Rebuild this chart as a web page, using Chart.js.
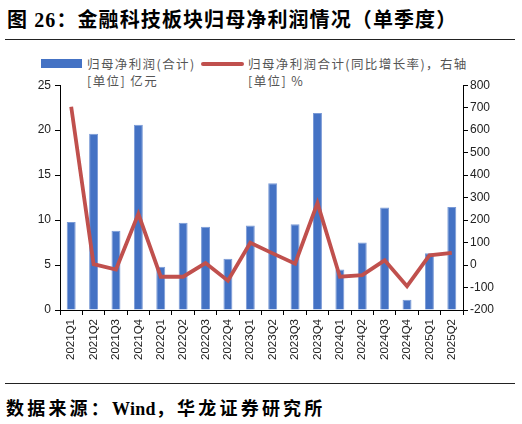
<!DOCTYPE html>
<html>
<head>
<meta charset="utf-8">
<script src="https://cdn.jsdelivr.net/npm/chart.js@4"></script>
<style>
  html, body { margin: 0; padding: 0; background: #fff; }
  body { width: 522px; height: 424px; position: relative; overflow: hidden; }
  .title { position: absolute; left: 7px; top: 4px; font: bold 20px "Liberation Serif", "Noto Sans CJK SC", serif; color: #000; letter-spacing: 1.1px; white-space: nowrap; }
  .rule { position: absolute; left: 5px; width: 510px; height: 1px; background: #222; }
  .legend { position: absolute; font: 12.5px "Noto Sans CJK SC", sans-serif; color: #555; letter-spacing: 1.4px; white-space: nowrap; line-height: 17px; }
  .swatch { position: absolute; }
  .source { position: absolute; left: 6px; top: 394px; font: bold 18px "Liberation Serif", "Noto Sans CJK SC", serif; color: #000; letter-spacing: 3.2px; white-space: nowrap; }
  .source span { letter-spacing: 0.3px; }
  #wrap { position: absolute; left: 0; top: 74px; width: 522px; height: 306px; }
</style>
</head>
<body>
<div class="title">图 26：金融科技板块归母净利润情况（单季度）</div>
<div class="rule" style="top:39px"></div>

<div class="swatch" style="left:41px; top:59px; width:41px; height:9px; background:#4472C4"></div>
<div class="legend" style="left:87px; top:55px">归母净利润(合计)<br>[单位] 亿元</div>
<div class="swatch" style="left:201px; top:62px; width:43px; height:4px; background:#C0504D; border-radius:2px"></div>
<div class="legend" style="left:248px; top:55px">归母净利润合计(同比增长率)，右轴<br>[单位] %</div>

<div id="wrap"><canvas id="chart"></canvas></div>

<div class="rule" style="top:383px"></div>
<div class="source">数据来源：<span>Wind</span>，华龙证券研究所</div>

<script>
// --- Data ---
const quarters = ['2021Q1', '2021Q2', '2021Q3', '2021Q4', '2022Q1', '2022Q2', '2022Q3', '2022Q4',
    '2023Q1', '2023Q2', '2023Q3', '2023Q4', '2024Q1', '2024Q2', '2024Q3', '2024Q4', '2025Q1', '2025Q2'];
// 归母净利润(合计), 亿元
const profit = [9.8, 19.6, 8.8, 20.6, 4.8, 9.7, 9.25, 5.7, 9.4, 14.1, 9.55, 21.9, 4.5, 7.5, 11.4, 1.15, 6.3, 11.45];
// 同比增长率, %
const growth = [704, 4, -20, 228, -52, -52, 9, -70, 99, 52, 6, 276, -52, -45, 21, -94, 43, 54];

const leftTicks = [0, 25, 5];
const rightTicks = [-200, 800, 100];

const tickFont = { family: 'Liberation Sans, Arial, sans-serif', size: 12 };

function axis(pos, range) {
    return {
        position: pos,
        min: range[0],
        max: range[1],
        border: { display: true, color: '#000', width: 1 },
        grid: { drawOnChartArea: false, drawTicks: true, tickLength: 5, color: '#000' },
        ticks: { stepSize: range[2], color: '#222', font: tickFont, padding: pos === 'left' ? 4 : 2 },
        afterFit: s => { s.width = pos === 'left' ? 60 : 59; }
    };
}

const ctx = document.getElementById('chart').getContext('2d');
new Chart(ctx, {
    data: {
        labels: quarters,
        datasets: [
            {
                type: 'line',
                data: growth,
                yAxisID: 'yR',
                borderColor: '#C0504D',
                borderWidth: 3.8,
                pointRadius: 0,
                tension: 0,
                order: 0
            },
            {
                type: 'bar',
                data: profit,
                yAxisID: 'yL',
                backgroundColor: '#4472C4',
                borderColor: '#7a9ad6',
                borderWidth: { top: 1, left: 1, right: 1, bottom: 0 },
                barPercentage: 0.4,
                categoryPercentage: 1,
                order: 1
            }
        ]
    },
    options: {
        responsive: true,
        maintainAspectRatio: false,
        animation: false,
        layout: { padding: { top: 8, left: 0, right: 0, bottom: 0 } },
        plugins: { legend: { display: false }, tooltip: { enabled: false } },
        scales: {
            x: {
                border: { display: true, color: '#000', width: 1 },
                grid: { drawOnChartArea: false, drawTicks: true, tickLength: 5, color: '#000', offset: true },
                ticks: { color: '#222', font: { family: 'Liberation Sans, Arial, sans-serif', size: 11.5 }, minRotation: 90, maxRotation: 90, padding: 4, autoSkip: false },
                afterFit: s => { s.height = 70; }
            },
            yL: axis('left', leftTicks),
            yR: axis('right', rightTicks)
        }
    }
});
</script>
</body>
</html>
